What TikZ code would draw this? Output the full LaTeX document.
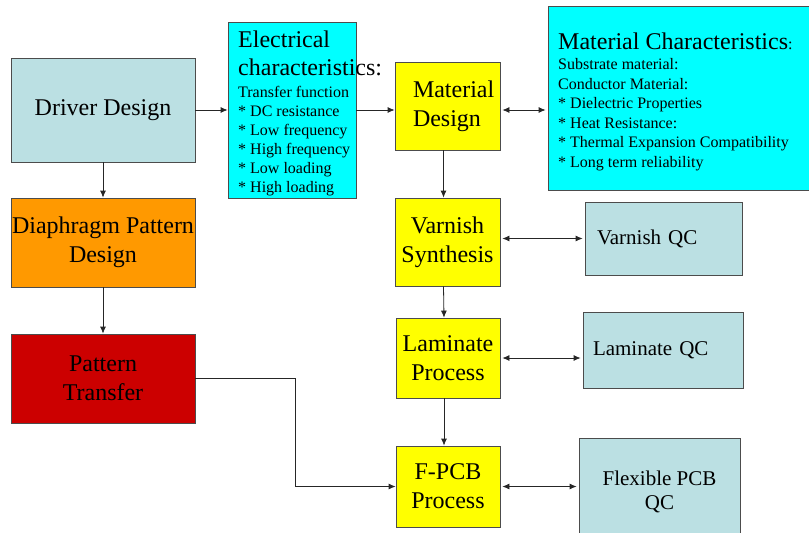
\documentclass[tikz,border=0pt]{standalone}
\usepackage{fontspec}
\setmainfont{Liberation Serif}
\usetikzlibrary{arrows.meta}
\usetikzlibrary{calc}
\definecolor{paleblue}{RGB}{187,224,227}
\definecolor{brightcyan}{RGB}{0,255,255}
\definecolor{brightyellow}{RGB}{255,255,0}
\definecolor{deeporange}{RGB}{255,153,0}
\definecolor{deepred}{RGB}{204,0,0}
\tikzset{
  box/.style={draw=black!70, line width=0.8pt, inner sep=0pt, align=center, font=\fontsize{24}{29}\selectfont},
  qcbox/.style={box, fill=paleblue, font=\fontsize{21}{24}\selectfont},
  title/.style={font=\fontsize{24}{29}\selectfont, inner sep=0pt, anchor=base west},
  small/.style={font=\fontsize{16}{19}\selectfont, inner sep=0pt, anchor=base west},
  arr/.style={draw=black!85, line width=0.8pt, -{Latex[length=7pt,width=6pt]}},
  dbl/.style={arr, {Latex[length=7pt,width=6pt]}-{Latex[length=7pt,width=6pt]}, shorten <=2pt, shorten >=2pt}
}
\begin{document}
\begin{tikzpicture}[x=1pt, y=-1pt]
      \useasboundingbox (0,0) rectangle (809,533);

      \node[box, fill=paleblue, minimum width=184pt, minimum height=104pt] (dd) at (103,110) {Driver Design};
      \node[box, fill=deeporange, minimum width=184pt, minimum height=89pt] (dp) at (103,242.5) {Diaphragm Pattern\\Design};
      \node[box, fill=deepred, minimum width=184pt, minimum height=89pt] (pt) at (103,378.5) {Pattern\\Transfer};

      \node[box, fill=brightcyan, minimum width=128pt, minimum height=176pt] (ec) at (292,110) {};
      \node[title] (ect1) at (238,47) {Electrical};
      \node[title] (ect2) at (238,75) {characteristics:};
      \foreach \txt [count=\i from 0] in {Transfer function, * DC resistance, * Low frequency, * High frequency, * Low loading, * High loading}
        \node[small] (ecl\i) at (238,{97+19.1*\i}) {\txt};

      \node[box, fill=brightyellow, minimum width=105pt, minimum height=88pt, text width=69pt, align=left] (md) at (447.5,106) {\mbox{Material}\\\mbox{Design}};
      \node[box, fill=brightyellow, minimum width=105pt, minimum height=88pt] (vs) at (447.5,242) {Varnish\\Synthesis};
      \node[box, fill=brightyellow, minimum width=104pt, minimum height=80pt] (lp) at (448,358) {Laminate\\Process};
      \node[box, fill=brightyellow, minimum width=104pt, minimum height=81pt] (fp) at (448,486.5) {F-PCB\\Process};

      \node[box, fill=brightcyan, minimum width=267pt, minimum height=184pt] (mc) at (681.5,98) {};
      \node[title] (mct) at (558,49.5) {Material Characteristics{\fontsize{16}{19}\selectfont:}};
      \foreach \txt [count=\i from 0] in {Substrate material:, Conductor Material:, * Dielectric Properties, * Heat Resistance:, * Thermal Expansion Compatibility, * Long term reliability}
        \node[small] (mcl\i) at (558,{69.5+19.5*\i}) {\txt};

      \node[qcbox, minimum width=157pt, minimum height=73pt, text width=133pt, inner xsep=12pt, align=left] (vq) at (663.5,238.5) {Varnish QC};
      \node[qcbox, minimum width=160pt, minimum height=76pt, text width=140pt, inner xsep=10pt, align=left] (lq) at (663,350) {Laminate QC};
      \node[qcbox, minimum width=161pt, minimum height=107pt] (fq) at (659.5,491.5) {Flexible PCB\\QC};

      \draw[arr] (dd.east) -- (ec.west);
      \draw[arr] (ec.east) -- (ec.east -| md.west);
      \draw[dbl] (md.east |- ec.east) -- (mc.west |- ec.east);
      \draw[arr] (dd.south) -- (dp.north);
      \draw[arr] (dp.south) -- (pt.north);
      \draw[arr] ([xshift=-4pt]md.south) -- ([xshift=-4pt]vs.north);
      \draw[arr] ([xshift=-4pt]vs.south) -- ([xshift=-4pt]lp.north);
      \draw[arr] ([xshift=-4pt]lp.south) -- ([xshift=-4pt]fp.north);
      \draw[dbl] (vs.east |- vq.west) -- (vq.west);
      \draw[dbl] (lp.east) -- (lp.east -| lq.west);
      \draw[dbl] (fp.east) -- (fp.east -| fq.west);
      \draw[arr] (pt.east) -| ($(pt.east)!0.5!(fp.west)$) |- (fp.west);
    \end{tikzpicture}
\end{document}
